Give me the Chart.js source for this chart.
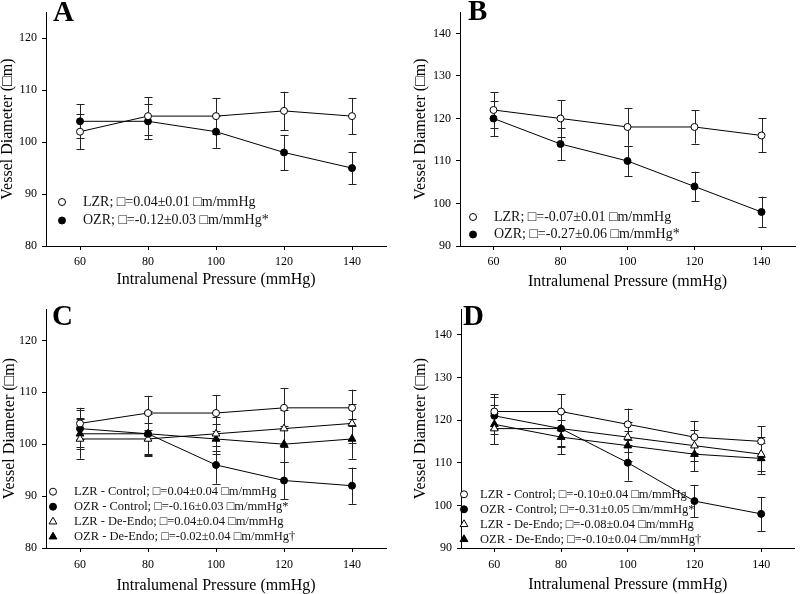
<!DOCTYPE html>
<html>
<head>
<meta charset="utf-8">
<script src="https://cdn.jsdelivr.net/npm/chart.js@4.4.0/dist/chart.umd.min.js"></script>
<style>
  html, body { margin: 0; padding: 0; background: #fff; }
  #wrap { position: relative; width: 800px; height: 594px; overflow: hidden; }
  .panel { position: absolute; width: 400px; height: 297px; }
</style>
</head>
<body>
<div id="wrap">
  <div class="panel" style="left:0;top:0"><canvas id="chartA" width="400" height="297"></canvas></div>
  <div class="panel" style="left:400px;top:0"><canvas id="chartB" width="400" height="297"></canvas></div>
  <div class="panel" style="left:0;top:297px"><canvas id="chartC" width="400" height="297"></canvas></div>
  <div class="panel" style="left:400px;top:297px"><canvas id="chartD" width="400" height="297"></canvas></div>
</div>
<script>
// x values (mmHg) and tick labels
const pressure = [60, 80, 100, 120, 140];
const xTicks = [60, 80, 100, 120, 140];
const yTicksLow = [80, 90, 100, 110, 120];
const yTicksHigh = [90, 100, 110, 120, 130, 140];

const xTitle = 'Intralumenal Pressure (mmHg)';
const yTitle = 'Vessel Diameter (\u25A1m)';

// Panel A
const aLabels = ['LZR; \u25A1=0.04\u00B10.01 \u25A1m/mmHg', 'OZR; \u25A1=-0.12\u00B10.03 \u25A1m/mmHg*'];
const aLzr = [102, 105, 105, 106, 105];
const aLzrErr = [3.4, 3.6, 3.5, 3.7, 3.5];
const aOzr = [104, 104, 102, 98, 95];
const aOzrErr = [3.3, 3.4, 3.1, 3.4, 3.1];

// Panel B
const bLabels = ['LZR; \u25A1=-0.07\u00B10.01 \u25A1m/mmHg', 'OZR; \u25A1=-0.27\u00B10.06 \u25A1m/mmHg*'];
const bLzr = [122, 120, 118, 118, 116];
const bLzrErr = [4.2, 4.3, 4.4, 3.9, 4.0];
const bOzr = [120, 114, 110, 104, 98];
const bOzrErr = [4.2, 3.8, 3.6, 3.5, 3.6];

// Panel C
const cLabels = [
  'LZR - Control; \u25A1=0.04\u00B10.04 \u25A1m/mmHg',
  'OZR - Control; \u25A1=-0.16\u00B10.03 \u25A1m/mmHg*',
  'LZR - De-Endo; \u25A1=0.04\u00B10.04 \u25A1m/mmHg',
  'OZR - De-Endo; \u25A1=-0.02\u00B10.04 \u25A1m/mmHg\u2020'
];
const cLzrCon = [104, 106, 106, 107, 107];
const cLzrConErr = [3.0, 3.3, 3.5, 3.8, 3.5];
const cOzrCon = [103, 102, 96, 93, 92];
const cOzrConErr = [3.6, 4.3, 3.6, 3.6, 3.5];
const cLzrDe = [101, 101, 102, 103, 104];
const cLzrDeErr = [3.8, 3.0, 3.3, 3.6, 3.8];
const cOzrDe = [102, 102, 101, 100, 101];
const cOzrDeErr = [3.0, 3.8, 2.9, 3.5, 3.8];

// Panel D
const dLabels = [
  'LZR - Control; \u25A1=-0.10\u00B10.04 \u25A1m/mmHg',
  'OZR - Control; \u25A1=-0.31\u00B10.05 \u25A1m/mmHg*',
  'LZR - De-Endo; \u25A1=-0.08\u00B10.04 \u25A1m/mmHg',
  'OZR - De-Endo; \u25A1=-0.10\u00B10.04 \u25A1m/mmHg\u2020'
];
const dLzrCon = [122, 122, 119, 116, 115];
const dLzrConErr = [4.0, 4.0, 3.7, 3.8, 3.6];
const dOzrCon = [121, 118, 110, 101, 98];
const dOzrConErr = [4.3, 4.2, 4.2, 3.8, 4.0];
const dLzrDe = [118, 118, 116, 114, 112];
const dLzrDeErr = [3.6, 4.0, 3.5, 3.6, 4.0];
const dOzrDe = [119, 116, 114, 112, 111];
const dOzrDeErr = [4.6, 4.0, 3.5, 4.0, 3.6];

const FONT = "'Liberation Serif', 'Times New Roman', serif";
Chart.defaults.font.family = FONT;
Chart.defaults.color = '#000';

function drawMarker(ctx, style, filled, x, y, r) {
  ctx.save();
  ctx.beginPath();
  if (style === 'triangle') {
    let a = 0;
    ctx.moveTo(x + Math.sin(a) * r, y - Math.cos(a) * r);
    a += Math.PI * 2 / 3;
    ctx.lineTo(x + Math.sin(a) * r, y - Math.cos(a) * r);
    a += Math.PI * 2 / 3;
    ctx.lineTo(x + Math.sin(a) * r, y - Math.cos(a) * r);
    ctx.closePath();
  } else {
    ctx.arc(x, y, r, 0, Math.PI * 2);
  }
  ctx.fillStyle = filled ? '#000' : '#fff';
  ctx.fill();
  ctx.lineWidth = 1;
  ctx.strokeStyle = '#000';
  ctx.stroke();
  ctx.restore();
}

// error bars drawn under the markers
const errorBars = {
  id: 'errorBars',
  beforeDatasetsDraw(chart) {
    const ctx = chart.ctx;
    const xs = chart.scales.x, ys = chart.scales.y;
    ctx.save();
    ctx.strokeStyle = '#222';
    ctx.lineWidth = 1;
    chart.data.datasets.forEach(ds => {
      ds.data.forEach((p, i) => {
        const e = ds.err[i];
        const px = Math.round(xs.getPixelForValue(p.x)) + 0.5;
        const top = ys.getPixelForValue(p.y + e);
        const bot = ys.getPixelForValue(p.y - e);
        ctx.beginPath();
        ctx.moveTo(px, top); ctx.lineTo(px, bot);
        ctx.moveTo(px - 4, Math.round(top) + 0.5); ctx.lineTo(px + 4, Math.round(top) + 0.5);
        ctx.moveTo(px - 4, Math.round(bot) + 0.5); ctx.lineTo(px + 4, Math.round(bot) + 0.5);
        ctx.stroke();
      });
    });
    ctx.restore();
  }
};

// in-plot legend and panel letter
const decor = {
  id: 'decor',
  afterDraw(chart) {
    const L = chart.options.plugins.decor;
    const ctx = chart.ctx;
    ctx.save();
    chart.data.datasets.forEach((ds, i) => {
      const y = L.legY + i * L.legStep;
      drawMarker(ctx, ds.pointStyle, ds.filled, L.legX, y, ds.pointRadius);
      ctx.fillStyle = '#111';
      ctx.font = L.legFont + 'px ' + FONT;
      ctx.textBaseline = 'middle';
      ctx.textAlign = 'left';
      ctx.fillText(ds.label, L.legTextX, y);
    });
    ctx.font = 'bold 29px ' + FONT;
    ctx.fillStyle = '#000';
    ctx.textBaseline = 'alphabetic';
    ctx.fillText(L.letter, L.letterX, L.letterY);
    ctx.restore();
  }
};

function series(label, vals, errs, style, filled) {
  return {
    label,
    data: pressure.map((p, i) => ({ x: p, y: vals[i] })),
    err: errs,
    filled,
    borderColor: '#000',
    borderWidth: 1,
    tension: 0,
    pointStyle: style,
    pointRadius: style === 'triangle' ? 4.5 : 3.5,
    pointBorderWidth: 1,
    pointBorderColor: '#000',
    pointBackgroundColor: filled ? '#000' : '#fff'
  };
}

function makePanel(id, datasets, yMin, yMax, yTicks, L) {
  new Chart(document.getElementById(id), {
    type: 'line',
    data: { datasets },
    options: {
      responsive: false,
      animation: false,
      devicePixelRatio: 1,
      layout: { padding: { left: 0, right: 400 - L.right, top: L.top, bottom: 0 } },
      plugins: {
        legend: { display: false },
        tooltip: { enabled: false },
        decor: L
      },
      scales: {
        x: {
          type: 'linear', min: 50, max: 150,
          afterBuildTicks: s => { s.ticks = xTicks.map(v => ({ value: v })); },
          afterFit: s => { s.height = L.xh; },
          grid: { drawOnChartArea: false, drawTicks: true, tickLength: 4, color: '#000', lineWidth: 1 },
          border: { color: '#000', width: 1 },
          ticks: { padding: L.xTickPad, color: '#000', font: { size: 12 } },
          title: { display: true, text: xTitle, color: '#000', font: { size: 16, lineHeight: 1 }, padding: { top: 0, bottom: L.xtPad } }
        },
        y: {
          type: 'linear', min: yMin, max: yMax,
          afterBuildTicks: s => { s.ticks = yTicks.map(v => ({ value: v })); },
          afterFit: s => { s.width = L.yw; },
          grid: { drawOnChartArea: false, drawTicks: true, tickLength: 4, color: '#000', lineWidth: 1 },
          border: { color: '#000', width: 1 },
          ticks: { padding: 5, color: '#000', font: { size: 12 } },
          title: { display: true, text: yTitle, color: '#000', font: { size: 16, lineHeight: 1 }, padding: { top: L.ytPad, bottom: 0 } }
        }
      }
    },
    plugins: [errorBars, decor]
  });
}

makePanel('chartA', [
  series(aLabels[0], aLzr, aLzrErr, 'circle', false),
  series(aLabels[1], aOzr, aOzrErr, 'circle', true)
], 80, 125, yTicksLow, {
  top: 8, right: 386, xh: 51, yw: 46, ytPad: 0, xtPad: 9, xTickPad: 5,
  legX: 62, legTextX: 83, legY: 202, legStep: 18.5, legFont: 14,
  letter: 'A', letterX: 53, letterY: 21
});

makePanel('chartB', [
  series(bLabels[0], bLzr, bLzrErr, 'circle', false),
  series(bLabels[1], bOzr, bOzrErr, 'circle', true)
], 90, 145, yTicksHigh, {
  top: 8, right: 399, xh: 51, yw: 60, ytPad: 13, xtPad: 7, xTickPad: 5,
  legX: 73, legTextX: 94, legY: 217, legStep: 17.5, legFont: 14,
  letter: 'B', letterX: 68, letterY: 20
});

makePanel('chartC', [
  series(cLabels[0], cLzrCon, cLzrConErr, 'circle', false),
  series(cLabels[1], cOzrCon, cOzrConErr, 'circle', true),
  series(cLabels[2], cLzrDe, cLzrDeErr, 'triangle', false),
  series(cLabels[3], cOzrDe, cOzrDeErr, 'triangle', true)
], 80, 126, yTicksLow, {
  top: 11, right: 386, xh: 46, yw: 46, ytPad: 1.5, xtPad: 0, xTickPad: 6,
  legX: 53, legTextX: 74, legY: 194.7, legStep: 15, legFont: 12.5,
  letter: 'C', letterX: 52, letterY: 28
});

makePanel('chartD', [
  series(dLabels[0], dLzrCon, dLzrConErr, 'circle', false),
  series(dLabels[1], dOzrCon, dOzrConErr, 'circle', true),
  series(dLabels[2], dLzrDe, dLzrDeErr, 'triangle', false),
  series(dLabels[3], dOzrDe, dOzrDeErr, 'triangle', true)
], 90, 146, yTicksHigh, {
  top: 11, right: 399, xh: 46, yw: 61, ytPad: 13, xtPad: 1.5, xTickPad: 6,
  legX: 64, legTextX: 80, legY: 197.3, legStep: 15, legFont: 12.5,
  letter: 'D', letterX: 63, letterY: 28
});
</script>
</body>
</html>
